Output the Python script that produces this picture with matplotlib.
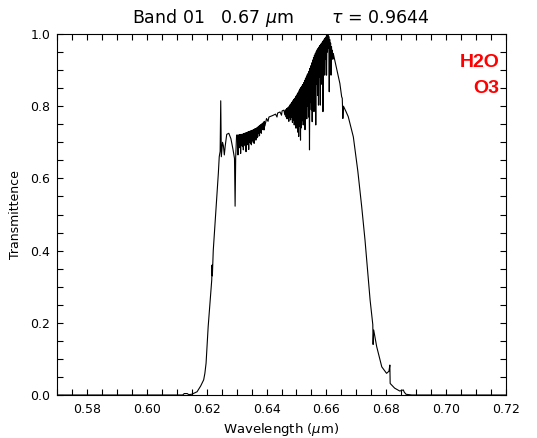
import matplotlib
matplotlib.use('Agg')
import matplotlib.pyplot as plt
import numpy as np

plt.rcParams.update({'font.size': 9, 'font.family': 'DejaVu Sans',
                     'mathtext.fontset': 'dejavusans'})

# band edge rising, plus the little feature near 0.625-0.63
wl_rise = [0.570, 0.6120, 0.6125, 0.6135, 0.6140, 0.6150, 0.6158, 0.6168, 0.6180,
           0.6190, 0.6194, 0.6198, 0.6205, 0.6217, 0.6218, 0.6219, 0.6222, 0.6233,
           0.6239, 0.6242, 0.6245, 0.6247, 0.6249, 0.6253, 0.6256, 0.6259, 0.6262,
           0.6267, 0.6274, 0.6281, 0.6288, 0.6293, 0.6295, 0.6297, 0.6300]
tr_rise = [0.0, 0.0, 0.004, 0.004, 0.001, 0.002, 0.005, 0.009, 0.025,
           0.042, 0.060, 0.088, 0.189, 0.319, 0.360, 0.330, 0.400, 0.540,
           0.614, 0.660, 0.675, 0.815, 0.660, 0.700, 0.690, 0.665, 0.690,
           0.722, 0.725, 0.710, 0.680, 0.655, 0.523, 0.660, 0.720]

# first band of absorption lines (top, then bottom of each line)
wl_a = [0.6303, 0.6306, 0.6309, 0.6312, 0.6315, 0.6318, 0.6321, 0.6324, 0.6327, 0.6330,
        0.6333, 0.6336, 0.6339, 0.6342, 0.6345, 0.6348, 0.6351, 0.6354, 0.6357, 0.6360,
        0.6363, 0.6366, 0.6369, 0.6372, 0.6375, 0.6378, 0.6381, 0.6384, 0.6387, 0.6390,
        0.6393]
top_a = [0.720, 0.720, 0.721, 0.721, 0.722, 0.722, 0.723, 0.724, 0.725, 0.726,
         0.727, 0.728, 0.729, 0.730, 0.731, 0.732, 0.733, 0.734, 0.735, 0.737,
         0.738, 0.739, 0.741, 0.743, 0.745, 0.747, 0.749, 0.751, 0.753, 0.756,
         0.758]
low_a = [0.665, 0.690, 0.685, 0.669, 0.692, 0.688, 0.679, 0.695, 0.690, 0.674,
         0.698, 0.693, 0.680, 0.700, 0.696, 0.693, 0.705, 0.700, 0.697, 0.710,
         0.706, 0.712, 0.715, 0.725, 0.718, 0.728, 0.725, 0.735, 0.738, 0.734,
         0.745]

# quieter stretch
wl_mid = [0.6400, 0.6405, 0.6408, 0.6420, 0.6430, 0.6435, 0.6437, 0.6445, 0.6450,
          0.6452, 0.6458, 0.6461, 0.6463]
tr_mid = [0.766, 0.758, 0.770, 0.774, 0.778, 0.770, 0.781, 0.784, 0.775,
          0.787, 0.789, 0.776, 0.790]

# dense H2O lines up to the peak
wl_b = [0.6464, 0.6467, 0.6470, 0.6473, 0.6476, 0.6479, 0.6482, 0.6485, 0.6488, 0.6491,
        0.6494, 0.6497, 0.6500, 0.6503, 0.6506, 0.6509, 0.6512, 0.6515, 0.6518, 0.6521,
        0.6524, 0.6527, 0.6530, 0.6533, 0.6536, 0.6539, 0.6542, 0.6545, 0.6548, 0.6551,
        0.6554, 0.6557, 0.6560, 0.6563, 0.6566, 0.6569, 0.6572, 0.6575, 0.6578, 0.6581,
        0.6584, 0.6587, 0.6590, 0.6593, 0.6596, 0.6599, 0.6602, 0.6605, 0.6608, 0.6611,
        0.6614, 0.6617, 0.6620]
top_b = [0.790, 0.793, 0.795, 0.797, 0.800, 0.804, 0.807, 0.811, 0.815, 0.819,
         0.822, 0.826, 0.830, 0.834, 0.838, 0.843, 0.848, 0.852, 0.856, 0.860,
         0.865, 0.871, 0.876, 0.881, 0.887, 0.891, 0.897, 0.905, 0.912, 0.920,
         0.928, 0.935, 0.941, 0.946, 0.951, 0.956, 0.960, 0.964, 0.968, 0.972,
         0.975, 0.979, 0.982, 0.986, 0.989, 0.992, 0.995, 0.999, 0.993, 0.985,
         0.975, 0.965, 0.955]
low_b = [0.770, 0.765, 0.772, 0.758, 0.770, 0.762, 0.770, 0.755, 0.762, 0.748,
         0.760, 0.739, 0.755, 0.728, 0.716, 0.745, 0.706, 0.740, 0.760, 0.748,
         0.775, 0.735, 0.790, 0.765, 0.800, 0.770, 0.679, 0.810, 0.790, 0.757,
         0.820, 0.785, 0.840, 0.748, 0.860, 0.830, 0.803, 0.880, 0.803, 0.900,
         0.860, 0.785, 0.910, 0.886, 0.930, 0.886, 0.950, 0.960, 0.840, 0.930,
         0.886, 0.940, 0.930]

# falling edge
wl_fall = [0.6623, 0.6634, 0.6645, 0.6651, 0.6653, 0.6655, 0.6657, 0.6665, 0.6673,
           0.6690, 0.6705, 0.6718, 0.6729, 0.6746, 0.6755, 0.6756, 0.6758, 0.6768,
           0.6785, 0.6801, 0.6809, 0.6812, 0.6813, 0.6828, 0.6845, 0.6857, 0.6860,
           0.6866, 0.6885, 0.720]
tr_fall = [0.946, 0.905, 0.863, 0.826, 0.822, 0.766, 0.800, 0.786, 0.771,
           0.715, 0.620, 0.521, 0.429, 0.263, 0.195, 0.140, 0.180, 0.134,
           0.078, 0.060, 0.066, 0.083, 0.032, 0.019, 0.011, 0.014, 0.008,
           0.002, 0.0, 0.0]


def zigzag(wl, top, low, step):
    x, y = [], []
    for w, t, l in zip(wl, top, low):
        x += [w, w + step]
        y += [t, l]
    return x, y


xa, ya = zigzag(wl_a, top_a, low_a, 0.00015)
xb, yb = zigzag(wl_b, top_b, low_b, 0.00015)
wl = np.array(wl_rise + xa + wl_mid + xb + wl_fall)
tr = np.array(tr_rise + ya + tr_mid + yb + tr_fall)

fig = plt.figure(figsize=(5.37, 4.38), dpi=100)
ax = fig.add_axes([57 / 537, 1 - 395 / 438, 449 / 537, 361 / 438])
ax.plot(wl, tr, color='k', lw=0.8)

ax.set_xlim(0.57, 0.72)
ax.set_ylim(0.0, 1.0)
ax.set_xticks(np.arange(0.58, 0.7201, 0.02))
ax.set_xticks(np.arange(0.57, 0.7201, 0.005), minor=True)
ax.set_yticks(np.arange(0.0, 1.001, 0.2))
ax.set_yticks(np.arange(0.0, 1.001, 0.05), minor=True)
ax.xaxis.set_major_formatter(plt.FormatStrFormatter('%.2f'))
ax.yaxis.set_major_formatter(plt.FormatStrFormatter('%.1f'))
ax.tick_params(which='both', direction='in', top=True, right=True, width=0.8)
ax.tick_params(which='major', length=4.5)
ax.tick_params(which='minor', length=4)
ax.tick_params(axis='x', which='major', pad=6)
ax.tick_params(axis='y', which='major', pad=5)
for s in ax.spines.values():
    s.set_linewidth(0.8)

ax.set_xlabel(r'Wavelength ($\mu$m)', labelpad=3, fontsize=9.5)
ax.set_ylabel('Transmittence', labelpad=6)
fig.text(0.522, 1 - 18 / 438, r'Band 01   0.67 $\mu$m       $\tau$ = 0.9644',
         ha='center', va='center', fontsize=12.5)

ax.text(0.986, 0.92, 'H2O', transform=ax.transAxes, ha='right', va='center',
        color='red', fontsize=14, fontweight='bold', family='Liberation Sans')
ax.text(0.986, 0.85, 'O3', transform=ax.transAxes, ha='right', va='center',
        color='red', fontsize=14, fontweight='bold', family='Liberation Sans')

fig.savefig('out.png', dpi=100)
